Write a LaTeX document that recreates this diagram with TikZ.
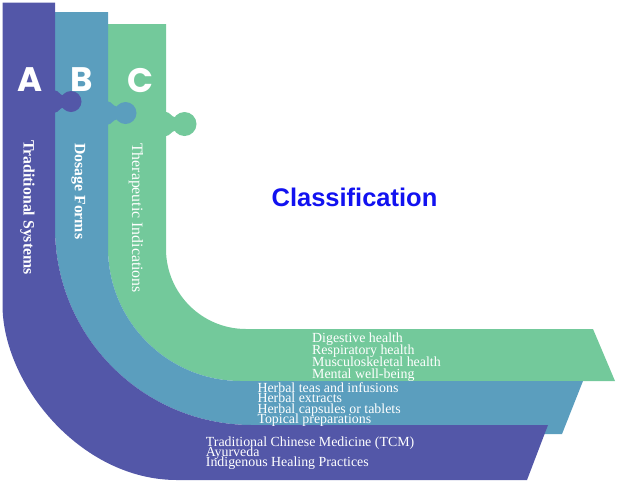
\documentclass[tikz,border=0pt]{standalone}
\usepackage{fontspec}
\setmainfont{Liberation Serif}
\newfontfamily\letterfont{Poppins}
\newfontfamily\headfont{Liberation Sans}
\definecolor{tradcol}{RGB}{83,87,168}
\definecolor{dosecol}{RGB}{91,158,190}
\definecolor{thercol}{RGB}{115,201,155}
\definecolor{headcol}{RGB}{18,18,240}

\begin{document}
\begin{tikzpicture}[x=1pt, y=-1pt,
		tradband/.style={fill=tradcol},
		doseband/.style={fill=dosecol},
		therband/.style={fill=thercol},
		letter/.style={text=white, inner sep=0, font=\letterfont\bfseries\fontsize{34}{34}\selectfont},
		bandtitle/.style={text=white, inner sep=0, rotate=-90, anchor=west, font=\fontsize{15.8}{16}\selectfont},
		itemtext/.style={text=white, inner sep=0, anchor=base west, font=\fontsize{13.9}{14}\selectfont}]
		\useasboundingbox (0,0) rectangle (617,483);

		% C: therapeutic indications (lowest layer)
		\fill[therband] (108,24) -- (166,24) -- (166,249) .. controls (166,293.2) and (201.8,329) .. (246,329)
			-- (593,329) -- (615,381) -- (241,381) .. controls (167.6,381) and (108,321.4) .. (108,248) -- cycle;
		\fill[therband] (165,112) -- (166,112) .. controls (170,112) and (171,117) .. (176,117.5)
			-- (176,130.5) .. controls (171,131) and (170,136) .. (166,136) -- (165,136) -- cycle;
		\fill[therband] (184.5,124) circle[radius=12];

		% B: dosage forms
		\fill[doseband] (55,12) -- (108,12) -- (108,248) .. controls (108,321.4) and (167.6,381) .. (241,381)
			-- (583,381) -- (562,434) -- (280,434) -- (252,425) .. controls (143.2,425) and (55,336.8) .. (55,228) -- cycle;
		\fill[doseband] (107,101.5) -- (108,101.5) .. controls (111.5,101.5) and (112.5,106) .. (117.5,106.8)
			-- (117.5,119.2) .. controls (112.5,120) and (111.5,124.5) .. (108,124.5) -- (107,124.5) -- cycle;
		\fill[doseband] (125.5,113) circle[radius=11];

		% A: traditional systems (top layer)
		\fill[tradband] (2.5,2.5) -- (55,2.5) -- (55,228) .. controls (55,336.8) and (143.2,425) .. (252,425)
			-- (548,425) -- (527,480) -- (177,480) .. controls (80.4,480) and (2.5,383.4) .. (2.5,305) -- cycle;
		\fill[tradband] (54,90.5) -- (55,90.5) .. controls (58.5,90.5) and (59.5,95) .. (63.5,95.5)
			-- (63.5,107.5) .. controls (59.5,108) and (58.5,112.5) .. (55,112.5) -- (54,112.5) -- cycle;
		\fill[tradband] (71,101.5) circle[radius=10.5];

		\node[letter] (letA) at (30.5,79.5) {A};
		\node[letter] (letB) at (81.5,79.5) {B};
		\node[letter] (letC) at (140,80.5) {C};

		\node[bandtitle, font=\bfseries\fontsize{15.8}{16}\selectfont] (tradtitle) at (27.5,140) {Traditional Systems};
		\node[bandtitle, font=\bfseries\fontsize{15.8}{16}\selectfont] (dosetitle) at (78.3,143) {Dosage Forms};
		\node[bandtitle] (thertitle) at (136,143) {Therapeutic Indications};

		\node[text=headcol, font=\headfont\bfseries\fontsize{25.5}{26}\selectfont, anchor=base] (heading) at (354.5,206.5) {Classification};

		% lists
		\node[itemtext] (digest) at (312,342.7) {Digestive health};
		\node[itemtext] (resp) at (312,354.7) {Respiratory health};
		\node[itemtext] (musc) at (312,366.5) {Musculoskeletal health};
		\node[itemtext] (mental) at (312,378.5) {Mental well-being};

		\node[itemtext] (teas) at (257.3,392.7) {Herbal teas and infusions};
		\node[itemtext] (extr) at (257.3,402.9) {Herbal extracts};
		\node[itemtext] (caps) at (257.3,413.1) {Herbal capsules or tablets};
		\node[itemtext] (topic) at (257.3,423.3) {Topical preparations};

		\node[itemtext] (tcm) at (205.7,446.7) {Traditional Chinese Medicine (TCM)};
		\node[itemtext] (ayur) at (205.7,456.7) {Ayurveda};
		\node[itemtext] (indig) at (205.7,466.7) {Indigenous Healing Practices};
	\end{tikzpicture}
\end{document}
